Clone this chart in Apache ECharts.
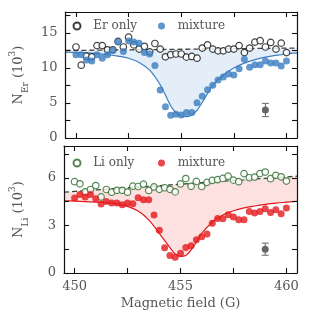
<!DOCTYPE html>
<html><head><meta charset="utf-8">
<script src="https://cdn.jsdelivr.net/npm/echarts@6/dist/echarts.min.js"></script>
<style>html,body{margin:0;padding:0;background:#fff}#c{width:314px;height:314px}</style>
</head><body><div id="c"></div>
<script>
// ---- data ----
const fieldG = [450,450.25,450.5,450.75,451,451.25,451.5,451.75,452,452.25,452.5,452.75,453,453.25,453.5,453.75,454,454.25,454.5,454.75,455,455.25,455.5,455.75,456,456.25,456.5,456.75,457,457.25,457.5,457.75,458,458.25,458.5,458.75,459,459.25,459.5,459.75,460];
const erOnly = [13.0,10.4,11.7,11.6,13.2,13.2,12.6,12.6,13.8,13.0,14.4,13.3,12.7,13.1,12.3,13.5,12.7,11.6,11.9,12.0,12.0,11.55,11.65,11.4,12.85,13.3,12.7,12.45,12.45,12.7,12.7,13.2,12.2,12.85,13.7,13.9,13.0,13.65,12.7,13.55,12.2];
const erMixture = [11.9,11.9,11.15,11.0,11.9,11.4,11.9,12.5,13.7,12.35,13.85,13.7,13.55,12.2,12.0,10.35,6.85,4.45,3.25,3.4,3.3,3.65,3.65,5.05,5.95,6.9,7.55,8.3,8.7,9.15,9.0,9.9,11.25,10.1,10.45,10.45,11.0,10.7,10.7,10.3,11.0];
const liOnly = [5.75,5.62,5.11,5.26,5.51,4.79,5.26,5.09,5.21,5.21,5.09,5.47,5.45,5.6,5.2,5.42,5.27,5.37,5.27,5.11,5.61,5.95,5.46,5.77,5.45,5.71,5.83,5.88,5.96,6.1,5.85,5.75,6.26,6.0,6.04,6.26,6.36,5.94,6.15,6.06,5.79];
const liMixture = [4.73,4.94,4.79,4.94,4.67,4.35,4.51,4.41,4.41,4.3,4.41,4.37,4.74,4.61,4.61,3.65,2.7,1.59,1.1,0.99,1.24,1.61,1.71,2.09,2.28,2.46,3.13,3.44,3.41,3.67,3.52,3.35,3.35,3.88,3.78,3.88,4.05,3.81,3.99,3.73,4.09];

const fitField = [449.5,450,450.5,451,451.5,452,452.5,453,453.5,454,454.5,454.75,455,455.25,455.5,455.75,456,456.5,457,457.5,458,458.5,459,459.5,460,460.5];
const erFit = [12.25,12.2,12.15,12.05,11.9,11.7,11.4,10.8,9.7,7.6,4.6,3.6,3.15,3.05,3.3,3.95,5.1,7.5,9.0,10.0,10.7,11.2,11.55,11.8,12.0,12.15];
const erBaseline = [12.5,12.52,12.53,12.55,12.56,12.58,12.6,12.61,12.63,12.64,12.66,12.67,12.68,12.68,12.69,12.7,12.71,12.72,12.74,12.76,12.77,12.79,12.8,12.82,12.84,12.85];
const liFit = [4.55,4.53,4.5,4.47,4.43,4.35,4.2,3.9,3.35,2.5,1.6,1.2,1.05,1.1,1.45,1.95,2.5,3.2,3.65,3.92,4.1,4.22,4.32,4.4,4.46,4.52];
const liBaseline = [5.09,5.14,5.18,5.23,5.27,5.32,5.37,5.41,5.46,5.5,5.55,5.57,5.6,5.62,5.64,5.66,5.69,5.73,5.78,5.83,5.87,5.92,5.96,6.01,6.05,6.1];

const erErrorBar = [[459, 4.0, 0.95]];
const liErrorBar = [[459, 1.5, 0.38]];

const xTicks = [450,452.5,455,457.5,460];
const xLabels = [450,455,460];
const erTicks = [0,2.5,5,7.5,10,12.5,15,17.5];
const erLabels = [0,5,10,15];
const liTicks = [0,1.5,3,4.5,6,7.5];
const liLabels = [0,3,6];

// ---- styling ----
const FONT = 'DejaVu Serif';
const TXT = '#555';
const BLUE = '#3a7dbf', BLUE_FILL = '#e4eef9';
const RED = '#e4191c', RED_FILL = '#fde1e1';
const GREEN = '#2b6a2b';

const zip = (a, b) => a.map((v, i) => [v, b[i]]);

function axis(extra) {
  return Object.assign({
    type: 'value', z: 10,
    axisLine: {show: true, onZero: false, lineStyle: {color: '#111', width: 1.2}},
    splitLine: {show: false},
    axisLabel: {show: false}
  }, extra);
}
function ticks(vals) { return {show: true, inside: true, length: 5, customValues: vals, lineStyle: {color: '#111', width: 1.1}}; }
function labels(vals, margin) { return {show: true, customValues: vals, margin: margin, fontFamily: FONT, fontSize: 13, color: TXT}; }

const richName = (sub) => ({
  name: '{n|N}{s|' + sub + '}{n| (10}{p|3}{n|)}',
  nameLocation: 'middle', nameGap: 34, nameRotate: 90,
  nameTextStyle: {
    rich: {
      n: {fontFamily: FONT, fontSize: 13, color: TXT, lineHeight: 22, verticalAlign: 'middle'},
      s: {fontFamily: FONT, fontSize: 9, color: TXT, lineHeight: 12, verticalAlign: 'bottom'},
      p: {fontFamily: FONT, fontSize: 9, color: TXT, lineHeight: 12, verticalAlign: 'top'}
    }
  }
});

function errRender(params, api) {
  const x = api.value(0), y = api.value(1), e = api.value(2);
  const p = api.coord([x, y]), lo = api.coord([x, y - e]), hi = api.coord([x, y + e]);
  const st = {stroke: '#666', lineWidth: 1};
  return {type: 'group', children: [
    {type: 'line', shape: {x1: p[0], y1: lo[1], x2: p[0], y2: hi[1]}, style: st},
    {type: 'line', shape: {x1: p[0] - 3.5, y1: lo[1], x2: p[0] + 3.5, y2: lo[1]}, style: st},
    {type: 'line', shape: {x1: p[0] - 3.5, y1: hi[1], x2: p[0] + 3.5, y2: hi[1]}, style: st},
    {type: 'circle', shape: {cx: p[0], cy: p[1], r: 3.5}, style: {fill: '#666'}}
  ]};
}

const legendBase = (name, left, top) => ({
  data: [name], left: left, top: top, padding: 0, itemWidth: 7, itemHeight: 7,
  selectedMode: false, formatter: (n) => '  ' + n.trim(),
  textStyle: {fontFamily: FONT, fontSize: 12, color: TXT}
});

const option = {
  animation: false,
  grid: [
    {left: 49, top: 12, width: 248, height: 126},
    {left: 49, top: 146, width: 248, height: 127}
  ],
  legend: [
    legendBase('Er only', 72.5, 20),
    legendBase('mixture', 158, 20),
    legendBase('Li only', 72.5, 157),
    legendBase('mixture ', 158, 157)
  ],
  xAxis: [
    axis({gridIndex: 0, position: 'bottom', min: 449.5, max: 460.5, axisTick: ticks(xTicks)}),
    axis({gridIndex: 0, position: 'top', min: 449.5, max: 460.5, axisTick: ticks(xTicks)}),
    axis({gridIndex: 1, position: 'bottom', min: 449.5, max: 460.5, axisTick: ticks(xTicks),
      axisLabel: labels(xLabels, 7),
      name: 'Magnetic field (G)', nameLocation: 'middle', nameGap: 24,
      nameTextStyle: {fontFamily: FONT, fontSize: 13, color: TXT}}),
    axis({gridIndex: 1, position: 'top', min: 449.5, max: 460.5, axisTick: ticks(xTicks)})
  ],
  yAxis: [
    axis(Object.assign({gridIndex: 0, position: 'left', min: 0, max: 18, axisTick: ticks(erTicks),
      axisLabel: labels(erLabels, 8)}, richName('Er'))),
    axis({gridIndex: 0, position: 'right', min: 0, max: 18, axisTick: ticks(erTicks)}),
    axis(Object.assign({gridIndex: 1, position: 'left', min: 0, max: 8, axisTick: ticks(liTicks),
      axisLabel: labels(liLabels, 8)}, richName('Li'))),
    axis({gridIndex: 1, position: 'right', min: 0, max: 8, axisTick: ticks(liTicks)})
  ],
  series: [
    // ---- Er panel ----
    {name: 'erFill', type: 'line', xAxisIndex: 0, yAxisIndex: 0, showSymbol: false, z: 1,
      data: zip(fitField, erBaseline), lineStyle: {width: 0}, areaStyle: {color: BLUE_FILL, opacity: 1}},
    {name: 'erFit', type: 'line', xAxisIndex: 0, yAxisIndex: 0, smooth: 0.35, showSymbol: false, z: 2,
      data: zip(fitField, erFit), lineStyle: {color: BLUE, width: 1.2}, areaStyle: {color: '#fff', opacity: 1}},
    {name: 'erBase', type: 'line', xAxisIndex: 0, yAxisIndex: 0, showSymbol: false, z: 3,
      data: zip(fitField, erBaseline), lineStyle: {color: '#444', width: 1.3, type: [5, 3]}},
    {name: 'Er only', type: 'scatter', xAxisIndex: 0, yAxisIndex: 0, symbol: 'circle', symbolSize: 6.5, z: 4,
      data: zip(fieldG, erOnly), itemStyle: {color: '#fff', borderColor: '#111', borderWidth: 1.2}},
    {name: 'mixture', type: 'scatter', xAxisIndex: 0, yAxisIndex: 0, symbol: 'circle', symbolSize: 7, z: 5,
      data: zip(fieldG, erMixture), itemStyle: {color: BLUE}},
    {name: 'erErr', type: 'custom', xAxisIndex: 0, yAxisIndex: 0, z: 5, renderItem: errRender, data: erErrorBar},
    // ---- Li panel ----
    {name: 'liFill', type: 'line', xAxisIndex: 2, yAxisIndex: 2, showSymbol: false, z: 1,
      data: zip(fitField, liBaseline), lineStyle: {width: 0}, areaStyle: {color: RED_FILL, opacity: 1}},
    {name: 'liFit', type: 'line', xAxisIndex: 2, yAxisIndex: 2, smooth: 0.35, showSymbol: false, z: 2,
      data: zip(fitField, liFit), lineStyle: {color: RED, width: 1.2}, areaStyle: {color: '#fff', opacity: 1}},
    {name: 'liBase', type: 'line', xAxisIndex: 2, yAxisIndex: 2, showSymbol: false, z: 3,
      data: zip(fitField, liBaseline), lineStyle: {color: '#2f4f2f', width: 1.3, type: [5, 3]}},
    {name: 'Li only', type: 'scatter', xAxisIndex: 2, yAxisIndex: 2, symbol: 'circle', symbolSize: 6.5, z: 4,
      data: zip(fieldG, liOnly), itemStyle: {color: '#fff', borderColor: GREEN, borderWidth: 1.2}},
    {name: 'mixture ', type: 'scatter', xAxisIndex: 2, yAxisIndex: 2, symbol: 'circle', symbolSize: 7, z: 5,
      data: zip(fieldG, liMixture), itemStyle: {color: RED}},
    {name: 'liErr', type: 'custom', xAxisIndex: 2, yAxisIndex: 2, z: 5, renderItem: errRender, data: liErrorBar}
  ]
};
const chart = echarts.init(document.getElementById('c'), null, {renderer: 'canvas'});
chart.setOption(option);
</script></body></html>
